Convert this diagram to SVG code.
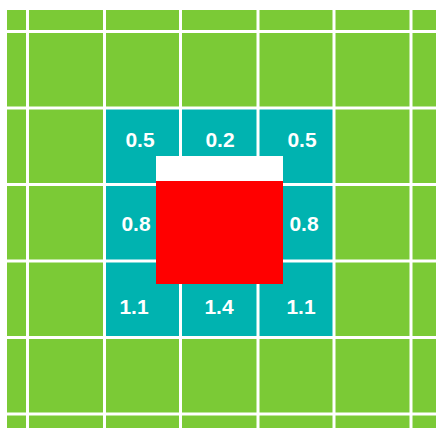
<svg xmlns="http://www.w3.org/2000/svg" width="436" height="428" viewBox="0 0 436 428">
<style>
.l{stroke:#ffffff;stroke-width:3;fill:none}
.t{font-family:"Liberation Sans",Arial,sans-serif;font-weight:bold;font-size:21px;fill:#ffffff;text-anchor:middle}
</style>
<rect x="0" y="0" width="436" height="428" fill="#ffffff"/>
<rect x="7" y="10" width="429" height="418" fill="#7BCA36"/>
<rect x="104.5" y="108" width="229.5" height="229.5" fill="#00B3B0"/>
<g id="grid">
<line class="l" x1="27.5" y1="10" x2="27.5" y2="428"/>
<line class="l" x1="104.5" y1="10" x2="104.5" y2="428"/>
<line class="l" x1="180.5" y1="10" x2="180.5" y2="428"/>
<line class="l" x1="258" y1="10" x2="258" y2="428"/>
<line class="l" x1="334" y1="10" x2="334" y2="428"/>
<line class="l" x1="411" y1="10" x2="411" y2="428"/>
<line class="l" x1="7" y1="31.5" x2="436" y2="31.5"/>
<line class="l" x1="7" y1="108" x2="436" y2="108"/>
<line class="l" x1="7" y1="184.5" x2="436" y2="184.5"/>
<line class="l" x1="7" y1="261" x2="436" y2="261"/>
<line class="l" x1="7" y1="337.5" x2="436" y2="337.5"/>
<line class="l" x1="7" y1="414" x2="436" y2="414"/>
</g>
<g id="object">
<rect x="156" y="156" width="127" height="25" fill="#ffffff"/>
<rect x="156" y="181" width="127" height="103" fill="#FF0000"/>
</g>
<g id="labels">
<text class="t" x="140" y="147">0.5</text>
<text class="t" x="220" y="147">0.2</text>
<text class="t" x="302" y="147">0.5</text>
<text class="t" x="136" y="231">0.8</text>
<text class="t" x="304" y="231">0.8</text>
<text class="t" x="134" y="314">1.1</text>
<text class="t" x="219" y="314">1.4</text>
<text class="t" x="301" y="314">1.1</text>
</g>
</svg>
